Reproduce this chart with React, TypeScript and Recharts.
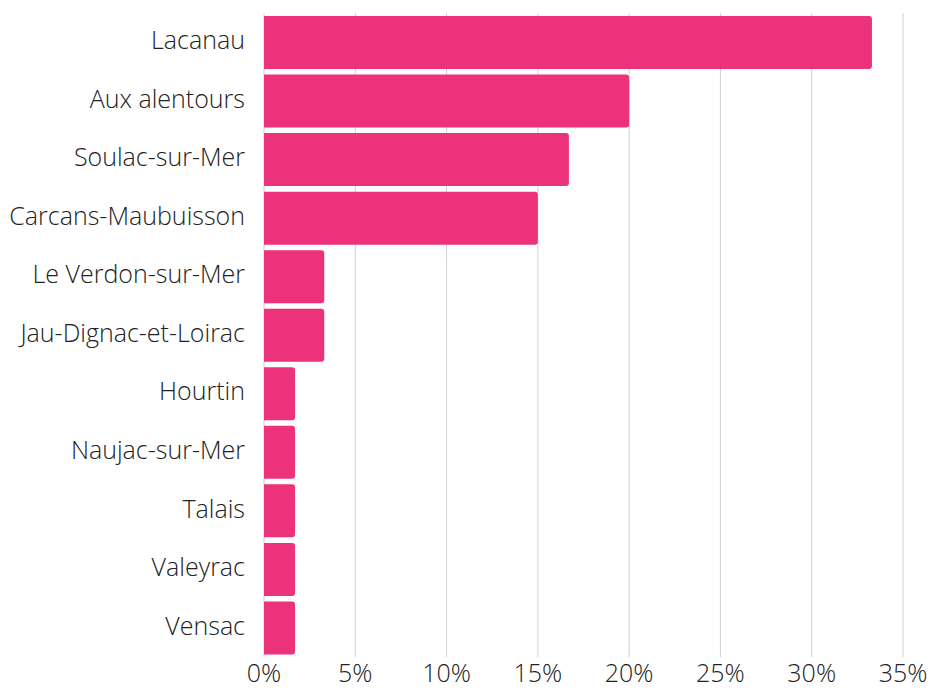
import React from 'react';
import { BarChart, Bar, XAxis, YAxis, CartesianGrid } from 'recharts';

const communes = [
  'Lacanau',
  'Aux alentours',
  'Soulac-sur-Mer',
  'Carcans-Maubuisson',
  'Le Verdon-sur-Mer',
  'Jau-Dignac-et-Loirac',
  'Hourtin',
  'Naujac-sur-Mer',
  'Talais',
  'Valeyrac',
  'Vensac',
];
const shares = [33.3, 20, 16.7, 15, 3.3, 3.3, 1.7, 1.7, 1.7, 1.7, 1.7];
const xTicks = [0, 5, 10, 15, 20, 25, 30, 35];

const data = communes.map((name, i) => ({ name, value: shares[i] }));

const font = { fontFamily: '"Open Sans", sans-serif', fontWeight: 300, fontSize: 25, fill: '#222' };

export default function App() {
  return (
    <div style={{ position: 'absolute', left: 0, top: 0, background: '#fff' }}>
      <BarChart
        width={931}
        height={689}
        data={data}
        layout="vertical"
        margin={{ top: 13, right: 28, bottom: 0, left: 0 }}
        barCategoryGap={3}
      >
        <CartesianGrid horizontal={false} stroke="#d0d0d0" />
        <XAxis
          type="number"
          domain={[0, 35]}
          ticks={xTicks}
          tickFormatter={(v: number) => `${v}%`}
          axisLine={false}
          tickLine={false}
          tickSize={0}
          tickMargin={7}
          height={32}
          tick={font}
          interval={0}
        />
        <YAxis
          type="category"
          dataKey="name"
          width={264}
          axisLine={false}
          tickLine={false}
          tickSize={0}
          tickMargin={19}
          tick={{ ...font, dy: -2 }}
          interval={0}
        />
        <Bar dataKey="value" fill="#eb327a" radius={[0, 3, 3, 0]} isAnimationActive={false} />
      </BarChart>
    </div>
  );
}
